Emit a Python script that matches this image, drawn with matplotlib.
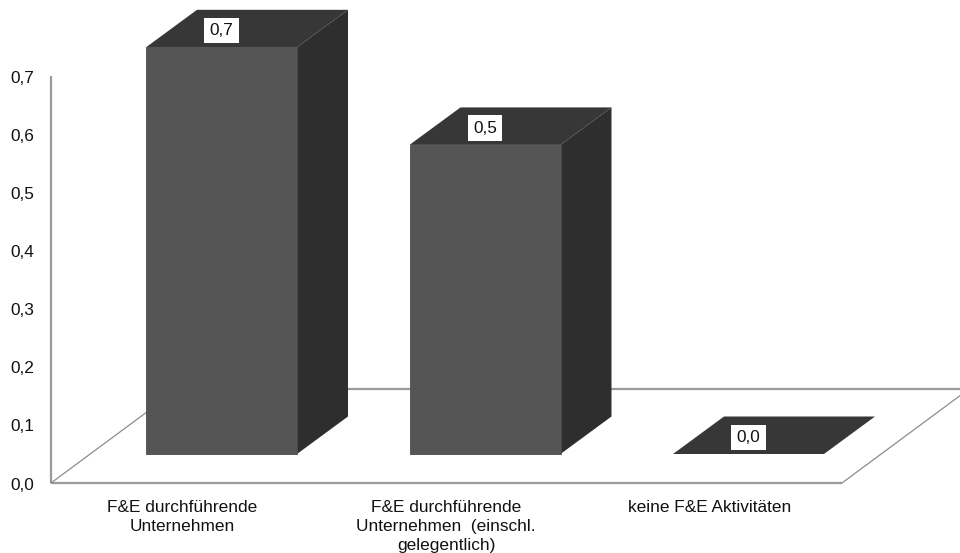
import matplotlib
matplotlib.use('Agg')
import matplotlib.pyplot as plt
from matplotlib.patches import Polygon

plt.rcParams['font.family'] = ['Liberation Sans', 'DejaVu Sans']

categories = ['F&E durchführende\nUnternehmen',
              'F&E durchführende\nUnternehmen  (einschl.\ngelegentlich)',
              'keine F&E Aktivitäten']
values = [0.70, 0.532, 0.0]
y_ticks = [0.0, 0.1, 0.2, 0.3, 0.4, 0.5, 0.6, 0.7]

W, H = 960, 553
PX_X = 263.5        # pixel je Kategorie
PX_Y = 581.0        # pixel je Werteinheit
X0, Y0 = 221.5, 483  # Lage von Kategorie 0 / Wert 0,0
FS = 12.4


def dx(px):
    return px / PX_X


def dy(px):
    return px / PX_Y


fig = plt.figure(figsize=(W / 100, H / 100), dpi=100)
ax = fig.add_axes([0, 0, 1, 1])
ax.set_xlim(-X0 / PX_X, (W - X0) / PX_X)
ax.set_ylim(-(H - Y0) / PX_Y, Y0 / PX_Y)
ax.axis('off')

# Tiefe der 3D-Darstellung
depth_x, depth_y = dx(51), dy(37.5)
bar_w = dx(151)
lift = dy(29)

# Boden und Achsen
left = -X0 / PX_X + dx(51)
right = -X0 / PX_X + dx(842)
floor_x, floor_y = dx(127), dy(94)
axis_grey = '#9a9a9a'
ax.plot([left, left], [0, 0.7], color=axis_grey, lw=1.6, solid_capstyle='butt', zorder=1)
ax.plot([left, right], [0, 0], color=axis_grey, lw=1.6, solid_capstyle='butt', zorder=1)
ax.plot([left, left + floor_x], [0, floor_y], color='#8c8c8c', lw=0.9, zorder=1)
ax.plot([right, right + floor_x], [0, floor_y], color='#8c8c8c', lw=0.9, zorder=1)
ax.plot([left + floor_x, right + floor_x], [floor_y, floor_y], color=axis_grey, lw=1.6, zorder=1)

for t in y_ticks:
    ax.text(-X0 / PX_X + dx(34.5), t + dy(-2), f'{t:.1f}'.replace('.', ','),
            ha='right', va='center', fontsize=FS, color='#111111')

for i, v in enumerate(values):
    x1, x2 = i - bar_w / 2, i + bar_w / 2
    y1, y2 = lift, lift + v
    if v > 0:
        ax.add_patch(Polygon([(x2, y1), (x2 + depth_x, y1 + depth_y),
                              (x2 + depth_x, y2 + depth_y), (x2, y2)],
                             facecolor='#2e2e2e', edgecolor='none', zorder=3))
        ax.add_patch(Polygon([(x1, y1), (x2, y1), (x2, y2), (x1, y2)],
                             facecolor='#555555', edgecolor='#4c4c4c', lw=0.6, zorder=4))
    ax.add_patch(Polygon([(x1, y2), (x2, y2), (x2 + depth_x, y2 + depth_y),
                          (x1 + depth_x, y2 + depth_y)],
                         facecolor='#373737', edgecolor='none', zorder=3))
    ax.text(i, y2 + depth_y / 2 - dy(2), f'{v:.1f}'.replace('.', ','), ha='center', va='center',
            fontsize=FS, color='#111111', zorder=6,
            bbox=dict(facecolor='white', edgecolor='none', boxstyle='square,pad=0.3'))
    ax.text(i - dx(39), -dy(17), categories[i], ha='center', va='top',
            fontsize=FS, color='#111111', linespacing=1.32)

fig.savefig('out.png', dpi=100, facecolor='white')
